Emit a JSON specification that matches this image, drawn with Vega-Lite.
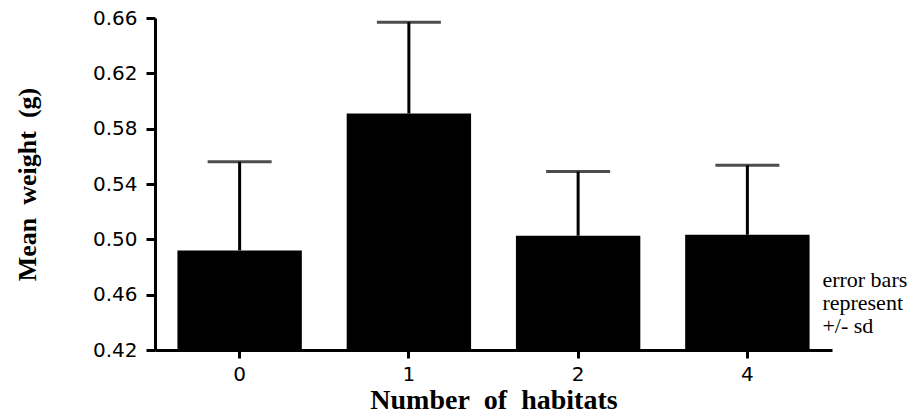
{
  "$schema": "https://vega.github.io/schema/vega-lite/v6.json",
  "autosize": "none",
  "width": 677,
  "height": 332,
  "padding": {"left": 155, "top": 18, "right": 80, "bottom": 66},
  "background": "white",
  "config": {"view": {"stroke": null}},
  "data": {
    "values": [
      {"habitats": "0", "mean": 0.492, "upper": 0.556},
      {"habitats": "1", "mean": 0.591, "upper": 0.657},
      {"habitats": "2", "mean": 0.5026, "upper": 0.549},
      {"habitats": "4", "mean": 0.5033, "upper": 0.5535}
    ]
  },
  "encoding": {
    "x": {
      "field": "habitats",
      "type": "ordinal",
      "sort": null,
      "scale": {"paddingInner": 0.265, "paddingOuter": 0.1325},
      "axis": {
        "title": "Number\u00a0\u00a0of\u00a0\u00a0habitats",
        "titleFont": "Liberation Serif",
        "titleFontWeight": "bold",
        "titleFontSize": 28,
        "titleColor": "black",
        "titlePadding": 2,
        "labelFont": "DejaVu Sans",
        "labelFontSize": 20,
        "labelColor": "black",
        "labelAngle": 0,
        "labelPadding": 6,
        "domainColor": "black",
        "domainWidth": 3,
        "tickColor": "black",
        "tickWidth": 3,
        "tickSize": 8,
        "grid": false
      }
    }
  },
  "layer": [
    {
      "mark": {"type": "bar", "color": "black"},
      "encoding": {
        "y": {
          "field": "mean",
          "type": "quantitative",
          "scale": {"domain": [0.42, 0.66], "zero": false, "nice": false},
          "axis": {
            "title": "Mean\u00a0\u00a0weight\u00a0\u00a0(g)",
            "titleFont": "Liberation Serif",
            "titleFontWeight": "bold",
            "titleFontSize": 26,
            "titleColor": "black",
            "titlePadding": 52,
            "values": [0.42, 0.46, 0.50, 0.54, 0.58, 0.62, 0.66],
            "format": ".2f",
            "labelFont": "DejaVu Sans",
            "labelFontSize": 20,
            "labelColor": "black",
            "labelPadding": 9,
            "domainColor": "black",
            "domainWidth": 3,
            "tickColor": "black",
            "tickWidth": 3,
            "tickSize": 9,
            "grid": false
          }
        },
        "y2": {"datum": 0.42}
      }
    },
    {
      "mark": {"type": "rule", "color": "black", "strokeWidth": 3},
      "encoding": {
        "y": {"field": "mean", "type": "quantitative"},
        "y2": {"field": "upper"}
      }
    },
    {
      "mark": {"type": "tick", "color": "black", "orient": "horizontal", "size": 64, "thickness": 3},
      "encoding": {
        "y": {"field": "upper", "type": "quantitative"}
      }
    },
    {
      "data": {"values": [{"note": ["error bars", "represent", "+/- sd"]}]},
      "mark": {"type": "text", "font": "Liberation Serif", "fontSize": 22, "lineHeight": 23, "align": "left", "baseline": "alphabetic", "dx": 75, "color": "black"},
      "encoding": {
        "x": {"datum": "4"},
        "y": {"datum": 0.4655},
        "text": {"field": "note"}
      }
    }
  ]
}
